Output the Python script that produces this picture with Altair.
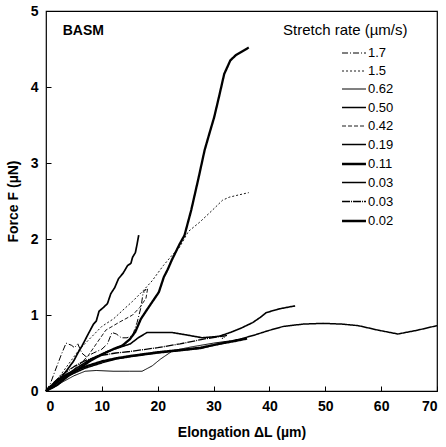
import altair as alt
import pandas as pd

rates = ["1.7", "1.5", "0.62", "0.50", "0.42", "0.19", "0.11", "0.03", "0.03 ", "0.02"]

x_17 = [0, 0.8, 1.6, 2.8, 3.6, 4.6, 5.1, 5.7, 6.4, 7.2, 8.5, 10, 11, 11.8, 12.6, 13.5, 14.5, 15.5, 16.3, 17.0, 17.4, 17.9, 17.5]
y_17 = [0, 0.1, 0.26, 0.49, 0.63, 0.6, 0.57, 0.62, 0.5, 0.45, 0.5, 0.55, 0.62, 0.77, 0.75, 0.7, 0.7, 0.73, 0.9, 1.1, 1.3, 1.34, 1.29]

x_15 = [0, 2, 4, 6, 8, 10, 12.1, 14, 15.5, 17.4, 19, 21, 22.5, 23.9, 25.5, 27.5, 29.8, 31.6, 32.8, 34.5, 36.3]
y_15 = [0, 0.15, 0.35, 0.55, 0.7, 0.85, 0.95, 1.08, 1.18, 1.32, 1.45, 1.65, 1.78, 1.89, 2.1, 2.22, 2.38, 2.51, 2.55, 2.58, 2.61]

x_062 = [0, 1.5, 3, 5, 7, 9, 12, 15, 17.2, 19, 20.5, 22.7, 26, 30, 33]
y_062 = [0, 0.05, 0.12, 0.2, 0.26, 0.27, 0.26, 0.26, 0.26, 0.33, 0.42, 0.53, 0.58, 0.63, 0.66]

x_050 = [0, 1, 3, 5, 8, 11, 13, 15.1, 16.5, 18.1, 22.5, 25, 28, 31, 33, 35, 37, 38.4, 39.4, 41.7, 44.6]
y_050 = [0, 0.05, 0.17, 0.28, 0.42, 0.52, 0.57, 0.62, 0.7, 0.77, 0.77, 0.74, 0.7, 0.72, 0.77, 0.83, 0.9, 0.97, 1.03, 1.08, 1.12]

x_042 = [0, 2, 4, 6, 7.5, 9, 10.7, 13, 15.5, 16.8, 17.9, 18.2]
y_042 = [0, 0.1, 0.22, 0.35, 0.46, 0.62, 0.8, 0.9, 1.0, 1.1, 1.22, 1.35]

x_019 = [0, 1, 2, 3, 4, 5, 5.7, 6.5, 7.7, 8.5, 9, 9.5, 10.3, 11, 11.6, 12.3, 13, 13.8, 14.6, 15.2, 15.5, 16, 16.3, 16.6]
y_019 = [0, 0.05, 0.12, 0.2, 0.3, 0.4, 0.5, 0.6, 0.77, 0.88, 0.92, 1.05, 1.1, 1.15, 1.28, 1.36, 1.48, 1.55, 1.65, 1.68, 1.76, 1.82, 1.93, 2.05]

x_011 = [0, 2, 4, 6, 8, 10, 12, 13.7, 15, 16, 17, 17.9, 19, 20.2, 21.1, 21.8, 22.5, 23.9, 24.8, 26, 27.3, 28.4, 29.3, 30.1, 31, 31.9, 33, 34, 36.3]
y_011 = [0, 0.08, 0.2, 0.3, 0.4, 0.48, 0.55, 0.6, 0.68, 0.78, 0.95, 1.05, 1.17, 1.3, 1.5, 1.6, 1.72, 1.93, 2.05, 2.38, 2.8, 3.17, 3.4, 3.6, 3.88, 4.17, 4.35, 4.42, 4.52]

x_003a = [0, 1, 2, 4, 7, 10, 12.5, 15, 20, 24, 27.7, 31, 35.1, 37.5, 39.6, 42.5, 46, 49.6, 53, 55.9, 59.5, 63, 66.5, 70]
y_003a = [0, 0.06, 0.12, 0.2, 0.3, 0.37, 0.42, 0.45, 0.5, 0.53, 0.56, 0.62, 0.69, 0.74, 0.79, 0.85, 0.88, 0.89, 0.88, 0.86, 0.8, 0.75, 0.8, 0.86]

x_003b = [0, 1.5, 3, 5, 7, 10, 12.5, 15, 20, 24, 28, 30.5, 32.3, 31.5]
y_003b = [0, 0.12, 0.22, 0.32, 0.4, 0.47, 0.5, 0.52, 0.57, 0.62, 0.68, 0.71, 0.73, 0.69]

x_002 = [0, 1, 2, 4, 7, 10, 12.5, 15, 20, 24, 27.7, 31, 34, 36]
y_002 = [0, 0.07, 0.14, 0.23, 0.32, 0.39, 0.43, 0.46, 0.51, 0.54, 0.57, 0.62, 0.66, 0.69]

series_x = [x_17, x_15, x_062, x_050, x_042, x_019, x_011, x_003a, x_003b, x_002]
series_y = [y_17, y_15, y_062, y_050, y_042, y_019, y_011, y_003a, y_003b, y_002]

dash_styles = [[6, 2, 1, 2], [2, 2], [1, 0], [1, 0], [4, 2], [1, 0], [1, 0], [1, 0], [8, 1, 1, 1], [1, 0]]
width_styles = [1.0, 0.9, 1.0, 1.6, 0.9, 1.7, 2.3, 1.5, 1.3, 2.3]

x_ticks = [0, 10, 20, 30, 40, 50, 60, 70]
y_ticks = [0, 1, 2, 3, 4, 5]

rows = []
for r, xs, ys in zip(rates, series_x, series_y):
    for i, (a, b) in enumerate(zip(xs, ys)):
        rows.append({"rate": r, "i": i, "x": a, "y": b})
df = pd.DataFrame(rows)

FONT = "Liberation Sans"

xscale = alt.Scale(domain=[0, 70], nice=False)
yscale = alt.Scale(domain=[0, 5], nice=False)

legend = alt.Legend(
    title="Stretch rate (µm/s)",
    orient="none", legendX=237, legendY=12,
    titleFont=FONT, titleFontSize=15, titleFontWeight="normal", titleColor="black",
    titlePadding=5,
    labelFont=FONT, labelFontSize=13, labelColor="black",
    symbolType="M-1.26,0L1.26,0", symbolSize=361, symbolStrokeColor="black",
    symbolOffset=60, labelOffset=3, rowPadding=1, padding=0,
)

lines = alt.Chart(df).mark_line(color="black", strokeJoin="round").encode(
    x=alt.X("x:Q", scale=xscale, axis=alt.Axis(
        values=x_ticks, ticks=False, grid=False, domain=False,
        labelFont=FONT, labelFontSize=14, labelFontWeight="bold", labelColor="black",
        labelPadding=8, title="Elongation ΔL (µm)", titleFont=FONT, titleFontSize=14,
        titleFontWeight="bold", titleColor="black", titlePadding=12)),
    y=alt.Y("y:Q", scale=yscale, axis=alt.Axis(
        values=y_ticks, ticks=False, grid=False, domain=False,
        labelFont=FONT, labelFontSize=14, labelFontWeight="bold", labelColor="black",
        labelPadding=8, title="Force F (µN)", titleFont=FONT, titleFontSize=14,
        titleFontWeight="bold", titleColor="black", titlePadding=10)),
    strokeDash=alt.StrokeDash("rate:N", scale=alt.Scale(domain=rates, range=dash_styles), legend=legend),
    strokeWidth=alt.StrokeWidth("rate:N", scale=alt.Scale(type="ordinal", domain=rates, range=width_styles), legend=legend),
    order="i:Q",
)

ann = pd.DataFrame({"x": [3.0], "y": [4.74], "t": ["BASM"]})
basm = alt.Chart(ann).mark_text(font=FONT, fontSize=14, fontWeight="bold", align="left",
                                baseline="middle", color="black").encode(
    x=alt.X("x:Q", scale=xscale, axis=None), y=alt.Y("y:Q", scale=yscale, axis=None), text="t:N")

tick_df = pd.DataFrame({"x": [0, 70], "y": [0, 5]})
ticks = alt.Chart(tick_df).mark_point(opacity=0).encode(
    x=alt.X("x:Q", scale=xscale, axis=alt.Axis(
        orient="bottom", values=x_ticks, offset=-5, tickSize=5, labels=False,
        domain=False, grid=False, title=None, tickColor="black")),
    y=alt.Y("y:Q", scale=yscale, axis=alt.Axis(
        orient="left", values=y_ticks, offset=-5, tickSize=5, labels=False,
        domain=False, grid=False, title=None, tickColor="black")),
)

chart = alt.layer(lines, basm, ticks).resolve_axis(x="independent", y="independent").properties(
    width=391, height=380,
    padding={"left": 46, "top": 11, "right": 9, "bottom": 56},
    autosize=alt.AutoSizeParams(type="none"),
).configure_view(stroke="black", strokeWidth=1.2)

chart.save("out.html", embed_options={"renderer": "svg", "actions": False})
